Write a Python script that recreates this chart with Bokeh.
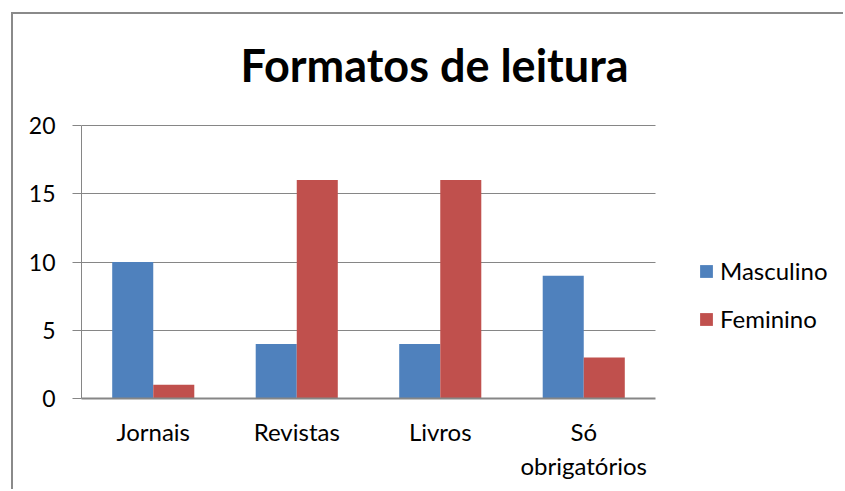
from bokeh.plotting import figure
from bokeh.models import ColumnDataSource, Legend, LegendItem, Range1d, FixedTicker, Label
from bokeh.transform import dodge
from bokeh.embed import file_html
from bokeh.resources import INLINE

# ---- data ----
categories = ["Jornais", "Revistas", "Livros", "Só\nobrigatórios"]
masculino = [10, 4, 4, 9]
feminino = [1, 16, 16, 3]
y_ticks = [0, 5, 10, 15, 20]
y_max = 20
series_names = ["Masculino", "Feminino"]
series_colors = ["#4F81BD", "#C0504D"]
title_text = "Formatos de leitura"

FONT = "Lato"
GRID = "#868686"

n = len(categories)
centers = [i + 0.5 for i in range(n)]
src = ColumnDataSource(dict(x=centers, m=masculino, f=feminino))

# layout (pixels, figure coordinates)
W, H = 832, 477
fl, fb = 68, 384          # frame left / bottom
axis_top = 111            # pixel row of the value 20
cat_px = 574              # pixel width occupied by the categories
x_end = n * (W - fl) / cat_px
y_end = y_max * fb / (fb - axis_top)   # frame reaches the top of the figure

p = figure(
    title=None,
    x_range=Range1d(0, x_end),
    y_range=Range1d(0, y_end),
    width=W, height=H,
    output_backend="svg", toolbar_location=None,
    min_border_left=fl, min_border_right=0,
    min_border_top=0, min_border_bottom=H - fb,
)
p.styles = {"margin-left": "11px", "margin-top": "12px",
            "border-left": "2px solid #8a8a8a", "border-top": "2px solid #8a8a8a"}
p.outline_line_color = None
p.background_fill_color = "white"
p.border_fill_color = "white"

r1 = p.vbar(x=dodge("x", -0.143), top="m", width=0.286,
            source=src, fill_color=series_colors[0], line_color=None)
r2 = p.vbar(x=dodge("x", 0.143), top="f", width=0.286,
            source=src, fill_color=series_colors[1], line_color=None)

# title (as a label placed above the value axis)
title_left_px = 159       # from the frame's left edge
title_base_px = 50        # from the figure's top
p.add_layout(Label(
    x=title_left_px / cat_px * n,
    y=y_max * (fb - title_base_px) / (fb - axis_top),
    text=title_text, text_font=FONT, text_font_style="bold",
    text_font_size="45px", text_color="black",
    text_align="left", text_baseline="alphabetic",
))

# grid
p.xgrid.grid_line_color = None
p.ygrid.grid_line_color = GRID
p.ygrid.grid_line_width = 1
p.ygrid.cross_bounds = (0, n)

# y axis
p.yaxis.ticker = FixedTicker(ticks=y_ticks)
p.yaxis.bounds = (0, y_max)
p.yaxis.axis_line_color = GRID
p.yaxis.axis_line_width = 1
p.yaxis.major_tick_line_color = GRID
p.yaxis.major_tick_out = 9
p.yaxis.major_tick_in = 0
p.yaxis.minor_tick_line_color = None
p.yaxis.major_label_standoff = 17
p.yaxis.major_label_text_font = FONT
p.yaxis.major_label_text_font_size = "23px"
p.yaxis.major_label_text_color = "black"

# x axis
p.xaxis.ticker = FixedTicker(ticks=centers)
p.xaxis.major_label_overrides = {c: lab for c, lab in zip(centers, categories)}
p.xaxis.bounds = (0, n)
p.xaxis.axis_line_color = GRID
p.xaxis.axis_line_width = 2
p.xaxis.major_tick_line_color = None
p.xaxis.major_tick_out = 0
p.xaxis.major_tick_in = 0
p.xaxis.minor_tick_line_color = None
p.xaxis.major_label_standoff = 18
p.xaxis.major_label_text_font = FONT
p.xaxis.major_label_text_font_size = "24px"
p.xaxis.major_label_text_color = "black"

legend = Legend(
    items=[LegendItem(label=series_names[0], renderers=[r1]),
           LegendItem(label=series_names[1], renderers=[r2])],
    location=(617, 65),
    orientation="vertical",
    glyph_width=16, glyph_height=16, label_height=16,
    label_standoff=6, spacing=19, padding=0, margin=0,
    border_line_color=None, background_fill_alpha=0,
    label_text_font=FONT, label_text_font_size="24px", label_text_color="black",
)
p.add_layout(legend)

open("out.html", "w").write(file_html(p, INLINE))
